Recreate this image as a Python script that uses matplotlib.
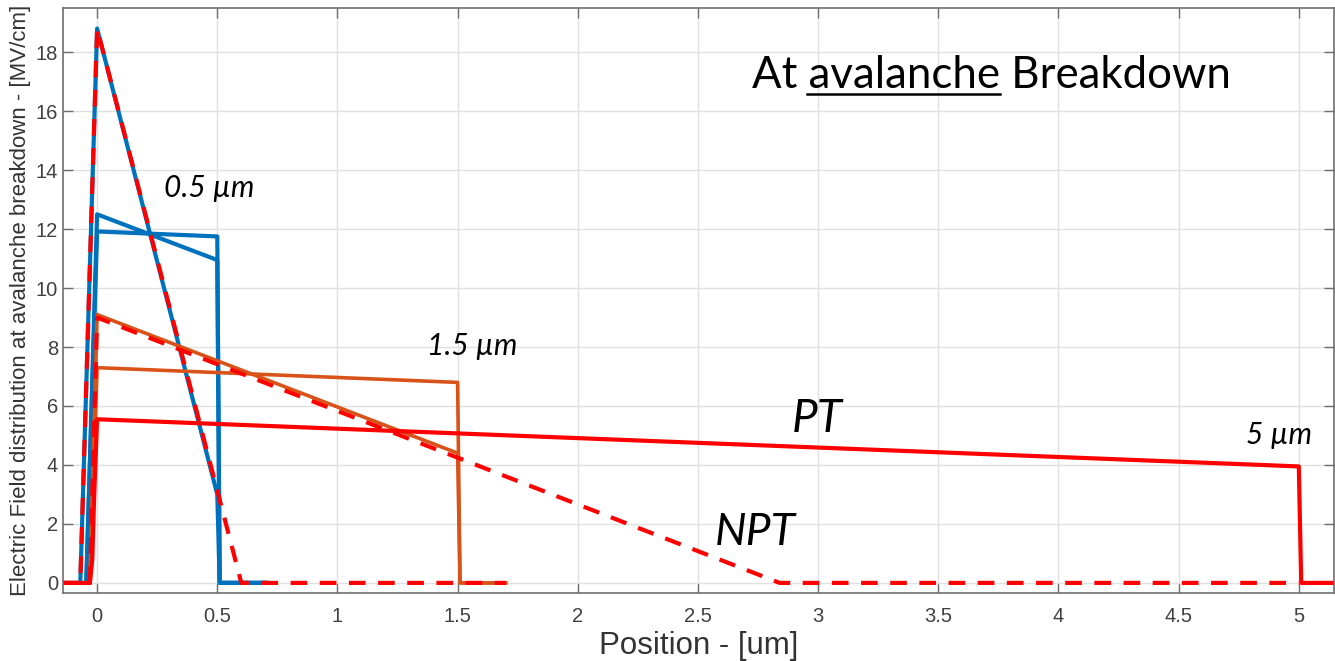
import matplotlib
matplotlib.use("Agg")
import matplotlib.pyplot as plt
from matplotlib.lines import Line2D

# field profiles at avalanche breakdown (MV/cm vs um)
# 0.5 um device (blue)
x_b1 = [-0.14, -0.07, 0.0, 0.5, 0.51, 0.70]
y_b1 = [0.0, 0.0, 18.8, 3.0, 0.0, 0.0]
x_b2 = [-0.045, 0.0, 0.5, 0.51, 0.70]
y_b2 = [0.0, 12.5, 10.95, 0.0, 0.0]
x_b3 = [-0.045, 0.0, 0.5, 0.51, 0.70]
y_b3 = [0.0, 11.92, 11.75, 0.0, 0.0]

# 1.5 um device (orange)
x_o1 = [-0.03, 0.0, 1.5, 1.51, 1.70]
y_o1 = [0.0, 9.1, 4.4, 0.0, 0.0]
x_o2 = [-0.03, 0.0, 1.5, 1.51, 1.70]
y_o2 = [0.0, 7.3, 6.8, 0.0, 0.0]

# 5 um device, punch-through (red solid)
x_pt = [-0.15, -0.03, -0.02, -0.012, 0.0, 5.0, 5.01, 5.2]
y_pt = [0.0, 0.0, 0.8, 3.0, 5.55, 3.95, 0.0, 0.0]

# non punch-through (red dashed)
x_npt1 = [-0.15, -0.07, 0.0, 0.6, 1.7]
y_npt1 = [0.0, 0.0, 18.8, 0.0, 0.0]
x_npt2 = [-0.03, 0.0, 2.84, 5.0]
y_npt2 = [0.0, 9.0, 0.0, 0.0]

xticks = [0, 0.5, 1, 1.5, 2, 2.5, 3, 3.5, 4, 4.5, 5]
yticks = [0, 2, 4, 6, 8, 10, 12, 14, 16, 18]

blue = "#0072BD"
orange = "#D95319"
red = "#FF0000"

plt.rcParams['font.family'] = ['Liberation Sans', 'DejaVu Sans']

fig = plt.figure(figsize=(13.35, 6.61), dpi=100)
ax = fig.add_axes([0.047, 0.103, 0.952, 0.885])

ax.plot(x_b1, y_b1, color=blue, lw=3)
ax.plot(x_b2, y_b2, color=blue, lw=3)
ax.plot(x_b3, y_b3, color=blue, lw=3)
ax.plot(x_o1, y_o1, color=orange, lw=2.6)
ax.plot(x_o2, y_o2, color=orange, lw=2.6)
ax.plot(x_pt, y_pt, color=red, lw=3)
ax.plot(x_npt1, y_npt1, color=red, lw=3, ls=(0, (4.0, 3.0)))
ax.plot(x_npt2, y_npt2, color=red, lw=3, ls=(0, (4.0, 3.0)))

ax.set_xlim(-0.143, 5.145)
ax.set_ylim(-0.34, 19.5)
ax.set_xticks(xticks)
ax.set_xticklabels([f"{t:g}" for t in xticks])
ax.set_yticks(yticks)

ax.grid(True, color="#e0e0e0", lw=1)
ax.set_axisbelow(True)
ax.tick_params(direction="in", length=7, width=1, colors="#6e6e6e",
               labelcolor="#404040", labelsize=14.5, top=True, right=True)
ax.tick_params(axis="x", pad=10)
for s in ax.spines.values():
    s.set_color("#6e6e6e")
    s.set_linewidth(1.2)

ax.set_xlabel("Position - [um]", fontsize=22.5, color="#333333", labelpad=4)
ax.set_ylabel("Electric Field distribution at avalanche breakdown - [MV/cm]",
              fontsize=16, color="#333333", labelpad=3)

# annotations
lab = dict(family=["Lato", "DejaVu Sans"], style="italic", color="black")
ax.text(0.28, 13.4, "0.5 \u00b5m", fontsize=21.5, va="center", **lab)
ax.text(1.374, 8.03, "1.5 \u00b5m", fontsize=21.5, va="center", **lab)
ax.text(4.78, 5.02, "5 \u00b5m", fontsize=21.5, va="center", **lab)
ax.text(2.89, 5.55, "PT", fontsize=33, va="center", **lab)
ax.text(2.57, 1.7, "NPT", fontsize=32, va="center", **lab)

tfont = dict(family=["Lato", "DejaVu Sans"], fontsize=31.5, color="black",
             va="center")
title = ax.text(2.725, 17.2, "At avalanche Breakdown", **tfont)

# underline the word "avalanche"
rend = fig.canvas.get_renderer()
t1 = ax.text(2.725, 17.2, "At ", **tfont)
t2 = ax.text(2.725, 17.2, "At avalanche", **tfont)
b0 = title.get_window_extent(rend)
b1 = t1.get_window_extent(rend)
b2 = t2.get_window_extent(rend)
t1.remove()
t2.remove()
inv = fig.transFigure.inverted()
x0, y0 = inv.transform((b1.x1 - 2, b0.y0 + 2))
x1, _ = inv.transform((b2.x1, b0.y0 + 2))
fig.add_artist(Line2D([x0, x1], [y0, y0], color="black", lw=1.8))

fig.savefig("out.png", dpi=100)
